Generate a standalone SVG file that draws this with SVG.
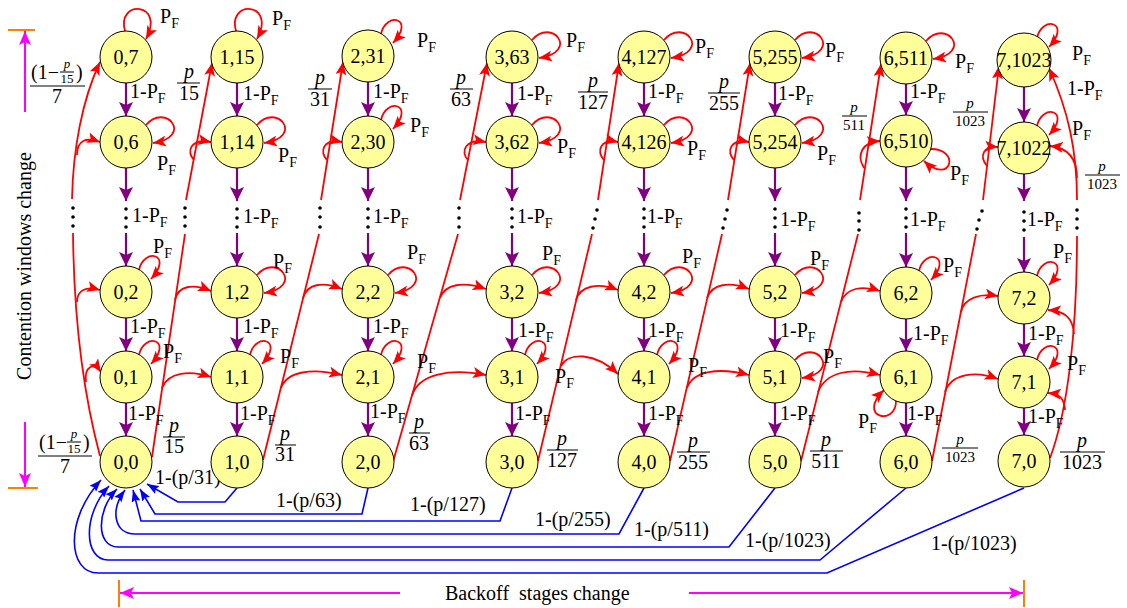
<svg xmlns="http://www.w3.org/2000/svg" width="1127" height="608" viewBox="0 0 1127 608">
<defs>
<style>
.n circle{fill:#ffff99;stroke:#000;stroke-width:1}
.t{font-family:"Liberation Serif","Times New Roman",serif;font-size:20px;fill:#000}
.nt{text-anchor:middle}
.sub{font-size:14px}
.sm{font-size:15px}
.xs{font-size:13px}
.it{font-style:italic}
.mid{text-anchor:middle}
.pu{stroke:#800080;stroke-width:2.2;fill:none;marker-end:url(#mp)}
.rd{stroke:#f00;stroke-width:1.8;fill:none}
.ra{marker-end:url(#mr)}
.bl{stroke:#00f;stroke-width:1.6;fill:none;marker-end:url(#mb)}
.bar{stroke:#000;stroke-width:1}
.mg{stroke:#f0f;stroke-width:2;fill:none;marker-end:url(#mm)}
.or{stroke:#ff8000;stroke-width:2}
</style>
<marker id="mp" viewBox="0 0 14 14" refX="14" refY="7" markerWidth="14" markerHeight="14" markerUnits="userSpaceOnUse" orient="auto"><path d="M0,0 L14,7 L0,14 L3,7 z" fill="#800080"/></marker>
<marker id="mr" viewBox="0 0 13 11" refX="13" refY="5.5" markerWidth="13" markerHeight="11" markerUnits="userSpaceOnUse" orient="auto"><path d="M0,0 L13,5.5 L0,11 L3,5.5 z" fill="#f00"/></marker>
<marker id="mb" viewBox="0 0 12 9" refX="12" refY="4.5" markerWidth="12" markerHeight="9" markerUnits="userSpaceOnUse" orient="auto"><path d="M0,0 L12,4.5 L0,9 L2,4.5 z" fill="#00f"/></marker>
<marker id="mm" viewBox="0 0 14 12" refX="14" refY="6" markerWidth="14" markerHeight="12" markerUnits="userSpaceOnUse" orient="auto"><path d="M0,0 L14,6 L0,12 L3,6 z" fill="#f0f"/></marker>
</defs>
<rect width="1127" height="608" fill="#fff"/>

<g id="axes">
<line class="or" x1="8" y1="30" x2="35" y2="30"/>
<line class="mg" x1="25" y1="112" x2="25" y2="31"/>
<line class="mg" x1="25" y1="422" x2="25" y2="487"/>
<line class="or" x1="8" y1="488" x2="38" y2="488"/>
<text class="t mid" transform="translate(31,266) rotate(-90)">Contention windows change</text>
<line class="or" x1="119" y1="580" x2="119" y2="607"/>
<line class="mg" x1="400" y1="593" x2="120" y2="593"/>
<line class="mg" x1="689" y1="593" x2="1023" y2="593"/>
<line class="or" x1="1024" y1="580" x2="1024" y2="607"/>
<text class="t" x="445" y="600">Backoff&#160; stages change</text>
</g>

<g id="connectors">
<g id="purple">
<path class="pu" d="M126,83V116"/><path class="pu" d="M126,168V201"/><path class="pu" d="M126,233V266"/><path class="pu" d="M126,318V351"/><path class="pu" d="M126,403V436"/>
<path class="pu" d="M237,83V116"/><path class="pu" d="M237,168V201"/><path class="pu" d="M237,233V266"/><path class="pu" d="M237,318V351"/><path class="pu" d="M237,403V436"/>
<path class="pu" d="M368,82V116"/><path class="pu" d="M368,168V201"/><path class="pu" d="M368,233V266"/><path class="pu" d="M368,318V351"/><path class="pu" d="M368,403V436"/>
<path class="pu" d="M512,83V116"/><path class="pu" d="M512,168V201"/><path class="pu" d="M512,233V266"/><path class="pu" d="M512,318V351"/><path class="pu" d="M512,403V436"/>
<path class="pu" d="M644,83V116"/><path class="pu" d="M644,168V201"/><path class="pu" d="M644,233V266"/><path class="pu" d="M644,318V351"/><path class="pu" d="M644,403V436"/>
<path class="pu" d="M775,83V116"/><path class="pu" d="M775,168V201"/><path class="pu" d="M775,233V266"/><path class="pu" d="M775,318V351"/><path class="pu" d="M775,403V436"/>
<path class="pu" d="M906,84V115"/><path class="pu" d="M906,167V201"/><path class="pu" d="M906,233V267"/><path class="pu" d="M906,319V351"/><path class="pu" d="M906,403V436"/>
<path class="pu" d="M1024,87V122"/><path class="pu" d="M1024,174V201"/><path class="pu" d="M1024,237V272"/><path class="pu" d="M1024,324V356"/><path class="pu" d="M1024,408V435"/>
</g>
<g id="dots" fill="#000">
<circle cx="126" cy="209" r="1.8"/><circle cx="126" cy="218" r="1.8"/><circle cx="126" cy="227" r="1.8"/>
<circle cx="237" cy="209" r="1.8"/><circle cx="237" cy="218" r="1.8"/><circle cx="237" cy="227" r="1.8"/>
<circle cx="368" cy="209" r="1.8"/><circle cx="368" cy="218" r="1.8"/><circle cx="368" cy="227" r="1.8"/>
<circle cx="512" cy="209" r="1.8"/><circle cx="512" cy="218" r="1.8"/><circle cx="512" cy="227" r="1.8"/>
<circle cx="644" cy="209" r="1.8"/><circle cx="644" cy="218" r="1.8"/><circle cx="644" cy="227" r="1.8"/>
<circle cx="775" cy="209" r="1.8"/><circle cx="775" cy="218" r="1.8"/><circle cx="775" cy="227" r="1.8"/>
<circle cx="906" cy="209" r="1.8"/><circle cx="906" cy="218" r="1.8"/><circle cx="906" cy="227" r="1.8"/>
<circle cx="1024" cy="212" r="1.8"/><circle cx="1024" cy="221" r="1.8"/><circle cx="1024" cy="230" r="1.8"/>
<circle cx="73" cy="208" r="1.8"/><circle cx="73" cy="217" r="1.8"/><circle cx="73" cy="226" r="1.8"/>
<circle cx="185" cy="208" r="1.8"/><circle cx="185" cy="217" r="1.8"/><circle cx="185" cy="226" r="1.8"/>
<circle cx="320" cy="208" r="1.8"/><circle cx="320" cy="217" r="1.8"/><circle cx="320" cy="227" r="1.8"/>
<circle cx="459" cy="208" r="1.8"/><circle cx="459" cy="218" r="1.8"/><circle cx="459" cy="227" r="1.8"/>
<circle cx="597" cy="210" r="1.8"/><circle cx="595" cy="219" r="1.8"/><circle cx="593" cy="228" r="1.8"/>
<circle cx="727" cy="210" r="1.8"/><circle cx="725" cy="219" r="1.8"/><circle cx="723" cy="228" r="1.8"/>
<circle cx="859" cy="213" r="1.8"/><circle cx="859" cy="221" r="1.8"/><circle cx="859" cy="230" r="1.8"/>
<circle cx="982" cy="211" r="1.8"/><circle cx="979" cy="220" r="1.8"/><circle cx="977" cy="229" r="1.8"/>
<circle cx="1077" cy="210" r="1.8"/><circle cx="1077" cy="219" r="1.8"/><circle cx="1077" cy="228" r="1.8"/>
</g>
<g id="red">
<path class="rd ra" d="M72,199 C73,150 82,100 100,62"/>
<path class="rd" d="M73,233 C74,330 85,400 100,456"/>
<path class="rd ra" d="M77,155 C77,140 86,137 100,142"/>
<path class="rd ra" d="M77,302 C77,290 86,286 100,290"/>
<path class="rd ra" d="M86,382 C84,366 94,362 101,372"/>

<path class="rd" d="M152,457 L185,234"/>
<path class="rd ra" d="M186,200 L212,63"/>
<path class="rd ra" d="M194,160 C186,152 190,138 211,142"/>
<path class="rd ra" d="M175,300 C178,286 192,283 211,291"/>
<path class="rd ra" d="M162,388 C168,372 190,370 211,377"/>

<path class="rd" d="M263,460 L319,234"/>
<path class="rd ra" d="M321,200 L343,62"/>
<path class="rd ra" d="M327,160 C319,152 323,138 342,142"/>
<path class="rd ra" d="M303,298 C307,284 322,281 342,289"/>
<path class="rd ra" d="M281,388 C287,371 312,368 342,375"/>

<path class="rd" d="M393,462 L458,234"/>
<path class="rd ra" d="M460,200 L487,63"/>
<path class="rd ra" d="M468,160 C460,152 465,138 486,142"/>
<path class="rd ra" d="M440,298 C445,284 463,281 486,289"/>
<path class="rd ra" d="M412,396 C418,374 450,368 486,375"/>

<path class="rd" d="M538,461 L592,234"/>
<path class="rd ra" d="M598,200 L619,63"/>
<path class="rd ra" d="M604,160 C596,152 600,138 618,142"/>
<path class="rd ra" d="M576,300 C580,286 598,282 618,290"/>
<path class="rd ra" d="M561,366 C568,352 595,352 618,374"/>

<path class="rd" d="M670,461 L722,234"/>
<path class="rd ra" d="M728,200 L750,63"/>
<path class="rd ra" d="M734,160 C726,152 730,138 749,142"/>
<path class="rd ra" d="M707,298 C712,284 729,281 749,289"/>
<path class="rd ra" d="M687,388 C693,371 718,367 749,375"/>

<path class="rd" d="M801,461 L858,234"/>
<path class="rd ra" d="M860,200 L881,64"/>
<path class="rd ra" d="M864,168 C856,155 862,142 880,141"/>
<path class="rd ra" d="M841,302 C846,288 862,285 880,291"/>
<path class="rd ra" d="M818,392 C826,372 850,367 880,375"/>

<path class="rd" d="M932,461 L976,234"/>
<path class="rd ra" d="M983,200 L999,66"/>
<path class="rd ra" d="M987,166 C979,156 983,146 998,147"/>
<path class="rd ra" d="M961,312 C964,298 980,293 998,296"/>
<path class="rd ra" d="M945,392 C951,374 975,370 998,379"/>

<path class="rd" d="M1050,458 C1068,410 1077,330 1077,236"/>
<path class="rd ra" d="M1077,200 C1077,150 1068,110 1049,68"/>
<path class="rd ra" d="M1077,178 C1077,160 1070,148 1050,146"/>
<path class="rd ra" d="M1074,334 C1073,318 1065,311 1048,310"/>
<path class="rd ra" d="M1065,410 C1064,398 1060,394 1048,393"/>
</g>
<g id="loops">
<path class="rd ra" d="M125,31 C116,-1 166,2 146,39"/>
<path class="rd ra" d="M146,125 C166,102 194,137 153,143"/>
<path class="rd ra" d="M139,270 C144,247 174,254 151,279"/>
<path class="rd ra" d="M139,355 C144,332 174,339 151,364"/>
<path class="rd ra" d="M236,31 C227,-1 277,2 257,39"/>
<path class="rd ra" d="M257,125 C277,102 305,137 264,143"/>
<path class="rd ra" d="M257,275 C277,252 305,287 264,293"/>
<path class="rd ra" d="M250,355 C255,332 285,339 262,364"/>
<path class="rd ra" d="M381,34 C386,11 416,18 393,43"/>
<path class="rd ra" d="M381,120 C386,97 416,104 393,129"/>
<path class="rd ra" d="M388,275 C408,252 436,287 395,293"/>
<path class="rd ra" d="M381,355 C386,332 416,339 393,364"/>
<path class="rd ra" d="M532,40 C552,17 580,52 539,58"/>
<path class="rd ra" d="M532,125 C552,102 580,137 539,143"/>
<path class="rd ra" d="M532,275 C552,252 580,287 539,293"/>
<path class="rd ra" d="M525,355 C530,332 560,339 537,364"/>
<path class="rd ra" d="M664,40 C684,17 712,52 671,58"/>
<path class="rd ra" d="M664,125 C684,102 712,137 671,143"/>
<path class="rd ra" d="M664,275 C684,252 712,287 671,293"/>
<path class="rd ra" d="M657,355 C662,332 692,339 669,364"/>
<path class="rd ra" d="M795,40 C815,17 843,52 802,58"/>
<path class="rd ra" d="M795,125 C815,102 843,137 802,143"/>
<path class="rd ra" d="M795,275 C815,252 843,287 802,293"/>
<path class="rd ra" d="M795,360 C815,337 843,372 802,378"/>
<path class="rd ra" d="M926,41 C946,18 974,53 933,59"/>
<path class="rd ra" d="M931,149 C961,149 951,186 924,161"/>
<path class="rd ra" d="M919,271 C924,248 954,255 931,280"/>
<path class="rd ra" d="M896,401 C896,427 856,417 884,390"/>
<path class="rd ra" d="M1037,38 C1042,15 1072,22 1049,47"/>
<path class="rd ra" d="M1037,126 C1042,103 1072,110 1049,135"/>
<path class="rd ra" d="M1037,276 C1042,253 1072,260 1049,285"/>
<path class="rd ra" d="M1037,360 C1042,337 1072,344 1049,369"/>
</g>
<g id="blue">
<path class="bl" d="M237,488 L225,502 L178,502 L147,484"/>
<path class="bl" d="M368,488 L362,514 L155,514 L140,489"/>
<path class="bl" d="M512,488 L500,521 L141,521 L133,490"/>
<path class="bl" d="M644,488 L619,534 L135,534 C114,534 110,510 125,490"/>
<path class="bl" d="M775,488 L729,547 L118,547 C96,547 96,510 117,489"/>
<path class="bl" d="M906,488 L820,560 L108,560 C84,560 82,515 109,486"/>
<path class="bl" d="M1024,488 L827,573 L98,573 C68,573 64,520 101,480"/>
</g>
</g>

<g id="labels">
<g id="pf">
<text class="t" x="160" y="23">P<tspan class="sub" dy="5">F</tspan></text>
<text class="t" x="157" y="170">P<tspan class="sub" dy="5">F</tspan></text>
<text class="t" x="153" y="253">P<tspan class="sub" dy="5">F</tspan></text>
<text class="t" x="163" y="358">P<tspan class="sub" dy="5">F</tspan></text>
<text class="t" x="272" y="25">P<tspan class="sub" dy="5">F</tspan></text>
<text class="t" x="278" y="162">P<tspan class="sub" dy="5">F</tspan></text>
<text class="t" x="273" y="268">P<tspan class="sub" dy="5">F</tspan></text>
<text class="t" x="280" y="363">P<tspan class="sub" dy="5">F</tspan></text>
<text class="t" x="417" y="47">P<tspan class="sub" dy="5">F</tspan></text>
<text class="t" x="410" y="132">P<tspan class="sub" dy="5">F</tspan></text>
<text class="t" x="407" y="259">P<tspan class="sub" dy="5">F</tspan></text>
<text class="t" x="417" y="368">P<tspan class="sub" dy="5">F</tspan></text>
<text class="t" x="566" y="47">P<tspan class="sub" dy="5">F</tspan></text>
<text class="t" x="557" y="153">P<tspan class="sub" dy="5">F</tspan></text>
<text class="t" x="542" y="260">P<tspan class="sub" dy="5">F</tspan></text>
<text class="t" x="555" y="383">P<tspan class="sub" dy="5">F</tspan></text>
<text class="t" x="695" y="53">P<tspan class="sub" dy="5">F</tspan></text>
<text class="t" x="687" y="155">P<tspan class="sub" dy="5">F</tspan></text>
<text class="t" x="682" y="263">P<tspan class="sub" dy="5">F</tspan></text>
<text class="t" x="688" y="372">P<tspan class="sub" dy="5">F</tspan></text>
<text class="t" x="825" y="57">P<tspan class="sub" dy="5">F</tspan></text>
<text class="t" x="817" y="160">P<tspan class="sub" dy="5">F</tspan></text>
<text class="t" x="810" y="265">P<tspan class="sub" dy="5">F</tspan></text>
<text class="t" x="823" y="363">P<tspan class="sub" dy="5">F</tspan></text>
<text class="t" x="955" y="68">P<tspan class="sub" dy="5">F</tspan></text>
<text class="t" x="950" y="180">P<tspan class="sub" dy="5">F</tspan></text>
<text class="t" x="943" y="272">P<tspan class="sub" dy="5">F</tspan></text>
<text class="t" x="858" y="428">P<tspan class="sub" dy="5">F</tspan></text>
<text class="t" x="1072" y="60">P<tspan class="sub" dy="5">F</tspan></text>
<text class="t" x="1072" y="135">P<tspan class="sub" dy="5">F</tspan></text>
<text class="t" x="1053" y="258">P<tspan class="sub" dy="5">F</tspan></text>
<text class="t" x="1067" y="370">P<tspan class="sub" dy="5">F</tspan></text>
</g>
<g id="onepf">
<text class="t" x="130" y="98">1-P<tspan class="sub" dy="5">F</tspan></text>
<text class="t" x="132" y="222">1-P<tspan class="sub" dy="5">F</tspan></text>
<text class="t" x="130" y="333">1-P<tspan class="sub" dy="5">F</tspan></text>
<text class="t" x="128" y="420">1-P<tspan class="sub" dy="5">F</tspan></text>
<text class="t" x="243" y="100">1-P<tspan class="sub" dy="5">F</tspan></text>
<text class="t" x="243" y="223">1-P<tspan class="sub" dy="5">F</tspan></text>
<text class="t" x="243" y="333">1-P<tspan class="sub" dy="5">F</tspan></text>
<text class="t" x="240" y="420">1-P<tspan class="sub" dy="5">F</tspan></text>
<text class="t" x="373" y="98">1-P<tspan class="sub" dy="5">F</tspan></text>
<text class="t" x="373" y="223">1-P<tspan class="sub" dy="5">F</tspan></text>
<text class="t" x="373" y="333">1-P<tspan class="sub" dy="5">F</tspan></text>
<text class="t" x="370" y="418">1-P<tspan class="sub" dy="5">F</tspan></text>
<text class="t" x="517" y="100">1-P<tspan class="sub" dy="5">F</tspan></text>
<text class="t" x="517" y="223">1-P<tspan class="sub" dy="5">F</tspan></text>
<text class="t" x="518" y="337">1-P<tspan class="sub" dy="5">F</tspan></text>
<text class="t" x="515" y="420">1-P<tspan class="sub" dy="5">F</tspan></text>
<text class="t" x="648" y="98">1-P<tspan class="sub" dy="5">F</tspan></text>
<text class="t" x="647" y="223">1-P<tspan class="sub" dy="5">F</tspan></text>
<text class="t" x="648" y="337">1-P<tspan class="sub" dy="5">F</tspan></text>
<text class="t" x="648" y="420">1-P<tspan class="sub" dy="5">F</tspan></text>
<text class="t" x="778" y="100">1-P<tspan class="sub" dy="5">F</tspan></text>
<text class="t" x="780" y="226">1-P<tspan class="sub" dy="5">F</tspan></text>
<text class="t" x="780" y="337">1-P<tspan class="sub" dy="5">F</tspan></text>
<text class="t" x="780" y="420">1-P<tspan class="sub" dy="5">F</tspan></text>
<text class="t" x="910" y="98">1-P<tspan class="sub" dy="5">F</tspan></text>
<text class="t" x="910" y="226">1-P<tspan class="sub" dy="5">F</tspan></text>
<text class="t" x="913" y="340">1-P<tspan class="sub" dy="5">F</tspan></text>
<text class="t" x="907" y="420">1-P<tspan class="sub" dy="5">F</tspan></text>
<text class="t" x="1067" y="95">1-P<tspan class="sub" dy="5">F</tspan></text>
<text class="t" x="1027" y="226">1-P<tspan class="sub" dy="5">F</tspan></text>
<text class="t" x="1028" y="340">1-P<tspan class="sub" dy="5">F</tspan></text>
<text class="t" x="1028" y="423">1-P<tspan class="sub" dy="5">F</tspan></text>
</g>
<g id="fractions">
<text class="t" x="31" y="79">(1−</text>
<text class="t xs it mid" x="67" y="68">p</text>
<line class="bar" x1="60" y1="72" x2="74" y2="72"/>
<text class="t xs mid" x="67" y="83">15</text>
<text class="t" x="76" y="79">)</text>
<line class="bar" x1="30" y1="86" x2="85" y2="86"/>
<text class="t mid" x="57" y="103">7</text>
<text class="t" x="39" y="449">(1−</text>
<text class="t xs it mid" x="74" y="438">p</text>
<line class="bar" x1="67" y1="442" x2="81" y2="442"/>
<text class="t xs mid" x="74" y="453">15</text>
<text class="t" x="83" y="449">)</text>
<line class="bar" x1="38" y1="456" x2="92" y2="456"/>
<text class="t mid" x="65" y="473">7</text>

<text class="t it mid" x="189" y="78">p</text><line class="bar" x1="177" y1="83" x2="200" y2="83"/><text class="t mid" x="189" y="100">15</text>
<text class="t it mid" x="174" y="432">p</text><line class="bar" x1="163" y1="437" x2="185" y2="437"/><text class="t mid" x="174" y="453">15</text>
<text class="t it mid" x="320" y="84">p</text><line class="bar" x1="308" y1="89" x2="332" y2="89"/><text class="t mid" x="320" y="106">31</text>
<text class="t it mid" x="285" y="440">p</text><line class="bar" x1="275" y1="445" x2="296" y2="445"/><text class="t mid" x="285" y="461">31</text>
<text class="t it mid" x="461" y="84">p</text><line class="bar" x1="450" y1="89" x2="473" y2="89"/><text class="t mid" x="461" y="106">63</text>
<text class="t it mid" x="419" y="428">p</text><line class="bar" x1="409" y1="433" x2="430" y2="433"/><text class="t mid" x="419" y="450">63</text>
<text class="t it mid" x="593" y="87">p</text><line class="bar" x1="578" y1="92" x2="608" y2="92"/><text class="t mid" x="593" y="109">127</text>
<text class="t it mid" x="562" y="445">p</text><line class="bar" x1="547" y1="450" x2="578" y2="450"/><text class="t mid" x="562" y="467">127</text>
<text class="t it mid" x="724" y="88">p</text><line class="bar" x1="708" y1="93" x2="740" y2="93"/><text class="t mid" x="724" y="110">255</text>
<text class="t it mid" x="693" y="447">p</text><line class="bar" x1="677" y1="452" x2="710" y2="452"/><text class="t mid" x="693" y="469">255</text>
<text class="t sm it mid" x="854" y="112">p</text><line class="bar" x1="842" y1="116" x2="867" y2="116"/><text class="t sm mid" x="854" y="130">511</text>
<text class="t it mid" x="826" y="446">p</text><line class="bar" x1="810" y1="451" x2="843" y2="451"/><text class="t mid" x="826" y="468">511</text>
<text class="t sm it mid" x="970" y="108">p</text><line class="bar" x1="953" y1="112" x2="988" y2="112"/><text class="t sm mid" x="970" y="126">1023</text>
<text class="t sm it mid" x="960" y="444">p</text><line class="bar" x1="942" y1="448" x2="978" y2="448"/><text class="t sm mid" x="960" y="462">1023</text>
<text class="t sm it mid" x="1102" y="171">p</text><line class="bar" x1="1085" y1="175" x2="1120" y2="175"/><text class="t sm mid" x="1102" y="189">1023</text>
<text class="t it mid" x="1082" y="447">p</text><line class="bar" x1="1060" y1="452" x2="1105" y2="452"/><text class="t mid" x="1082" y="469">1023</text>
</g>
<g id="bluelabels">
<text class="t" x="155" y="484">1-(p/31)</text>
<text class="t" x="276" y="507">1-(p/63)</text>
<text class="t" x="410" y="511">1-(p/127)</text>
<text class="t" x="535" y="526">1-(p/255)</text>
<text class="t" x="634" y="536">1-(p/511)</text>
<text class="t" x="745" y="547">1-(p/1023)</text>
<text class="t" x="931" y="550">1-(p/1023)</text>
</g>
</g>

<g id="nodes">
<g id="n0_7" class="n"><circle cx="126" cy="57" r="26"/><text class="t nt" x="126" y="64">0,7</text></g>
<g id="n0_6" class="n"><circle cx="126" cy="142" r="26"/><text class="t nt" x="126" y="149">0,6</text></g>
<g id="n0_2" class="n"><circle cx="126" cy="292" r="26"/><text class="t nt" x="126" y="299">0,2</text></g>
<g id="n0_1" class="n"><circle cx="126" cy="377" r="26"/><text class="t nt" x="126" y="384">0,1</text></g>
<g id="n0_0" class="n"><circle cx="126" cy="462" r="26"/><text class="t nt" x="126" y="469">0,0</text></g>
<g id="n1_15" class="n"><circle cx="237" cy="57" r="26"/><text class="t nt" x="237" y="64">1,15</text></g>
<g id="n1_14" class="n"><circle cx="237" cy="142" r="26"/><text class="t nt" x="237" y="149">1,14</text></g>
<g id="n1_2" class="n"><circle cx="237" cy="292" r="26"/><text class="t nt" x="237" y="299">1,2</text></g>
<g id="n1_1" class="n"><circle cx="237" cy="377" r="26"/><text class="t nt" x="237" y="384">1,1</text></g>
<g id="n1_0" class="n"><circle cx="237" cy="462" r="26"/><text class="t nt" x="237" y="469">1,0</text></g>
<g id="n2_31" class="n"><circle cx="368" cy="56" r="26"/><text class="t nt" x="368" y="63">2,31</text></g>
<g id="n2_30" class="n"><circle cx="368" cy="142" r="26"/><text class="t nt" x="368" y="149">2,30</text></g>
<g id="n2_2" class="n"><circle cx="368" cy="292" r="26"/><text class="t nt" x="368" y="299">2,2</text></g>
<g id="n2_1" class="n"><circle cx="368" cy="377" r="26"/><text class="t nt" x="368" y="384">2,1</text></g>
<g id="n2_0" class="n"><circle cx="368" cy="462" r="26"/><text class="t nt" x="368" y="469">2,0</text></g>
<g id="n3_63" class="n"><circle cx="512" cy="57" r="26"/><text class="t nt" x="512" y="64">3,63</text></g>
<g id="n3_62" class="n"><circle cx="512" cy="142" r="26"/><text class="t nt" x="512" y="149">3,62</text></g>
<g id="n3_2" class="n"><circle cx="512" cy="292" r="26"/><text class="t nt" x="512" y="299">3,2</text></g>
<g id="n3_1" class="n"><circle cx="512" cy="377" r="26"/><text class="t nt" x="512" y="384">3,1</text></g>
<g id="n3_0" class="n"><circle cx="512" cy="462" r="26"/><text class="t nt" x="512" y="469">3,0</text></g>
<g id="n4_127" class="n"><circle cx="644" cy="57" r="26"/><text class="t nt" x="644" y="64">4,127</text></g>
<g id="n4_126" class="n"><circle cx="644" cy="142" r="26"/><text class="t nt" x="644" y="149">4,126</text></g>
<g id="n4_2" class="n"><circle cx="644" cy="292" r="26"/><text class="t nt" x="644" y="299">4,2</text></g>
<g id="n4_1" class="n"><circle cx="644" cy="377" r="26"/><text class="t nt" x="644" y="384">4,1</text></g>
<g id="n4_0" class="n"><circle cx="644" cy="462" r="26"/><text class="t nt" x="644" y="469">4,0</text></g>
<g id="n5_255" class="n"><circle cx="775" cy="57" r="26"/><text class="t nt" x="775" y="64">5,255</text></g>
<g id="n5_254" class="n"><circle cx="775" cy="142" r="26"/><text class="t nt" x="775" y="149">5,254</text></g>
<g id="n5_2" class="n"><circle cx="775" cy="292" r="26"/><text class="t nt" x="775" y="299">5,2</text></g>
<g id="n5_1" class="n"><circle cx="775" cy="377" r="26"/><text class="t nt" x="775" y="384">5,1</text></g>
<g id="n5_0" class="n"><circle cx="775" cy="462" r="26"/><text class="t nt" x="775" y="469">5,0</text></g>
<g id="n6_511" class="n"><circle cx="906" cy="58" r="26"/><text class="t nt" x="906" y="65">6,511</text></g>
<g id="n6_510" class="n"><circle cx="906" cy="141" r="26"/><text class="t nt" x="906" y="148">6,510</text></g>
<g id="n6_2" class="n"><circle cx="906" cy="293" r="26"/><text class="t nt" x="906" y="300">6,2</text></g>
<g id="n6_1" class="n"><circle cx="906" cy="377" r="26"/><text class="t nt" x="906" y="384">6,1</text></g>
<g id="n6_0" class="n"><circle cx="906" cy="462" r="26"/><text class="t nt" x="906" y="469">6,0</text></g>
<g id="n7_1023" class="n"><circle cx="1024" cy="60" r="27"/><text class="t nt" x="1024" y="67">7,1023</text></g>
<g id="n7_1022" class="n"><circle cx="1024" cy="148" r="26"/><text class="t nt" x="1024" y="155">7,1022</text></g>
<g id="n7_2" class="n"><circle cx="1024" cy="298" r="26"/><text class="t nt" x="1024" y="305">7,2</text></g>
<g id="n7_1" class="n"><circle cx="1024" cy="382" r="26"/><text class="t nt" x="1024" y="389">7,1</text></g>
<g id="n7_0" class="n"><circle cx="1024" cy="461" r="26"/><text class="t nt" x="1024" y="468">7,0</text></g>
</g>
</svg>
